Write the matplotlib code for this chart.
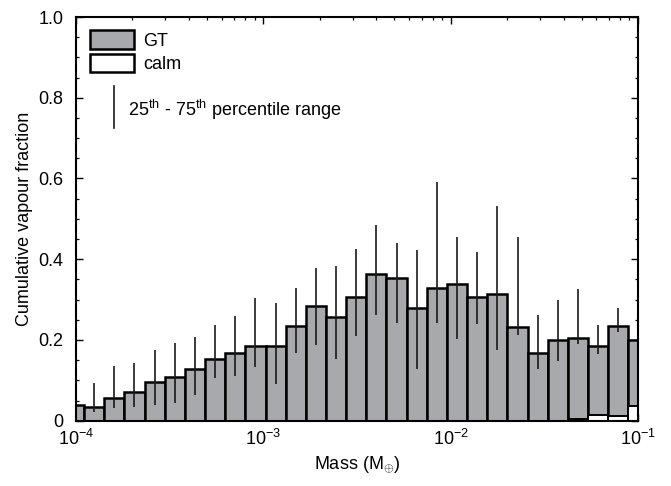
import matplotlib
matplotlib.use('Agg')
import matplotlib.pyplot as plt
from matplotlib.ticker import FuncFormatter, MultipleLocator, LogLocator
import numpy as np

plt.rcParams['font.family'] = ['Liberation Sans', 'DejaVu Sans']
plt.rcParams['mathtext.fontset'] = 'custom'
plt.rcParams['mathtext.rm'] = 'Liberation Sans'
plt.rcParams['mathtext.it'] = 'Liberation Sans:italic'
plt.rcParams['mathtext.bf'] = 'Liberation Sans:bold'
plt.rcParams['axes.unicode_minus'] = False

# log-spaced mass bins (first and last bins run past the axis limits)
edges = np.logspace(-4.0648, -0.9438, 30)

# GT cumulative vapour fraction per bin
gt = [0.038, 0.035, 0.056, 0.071, 0.097, 0.108, 0.127, 0.152, 0.169, 0.184,
      0.186, 0.235, 0.285, 0.258, 0.307, 0.363, 0.353, 0.279, 0.328, 0.338,
      0.307, 0.313, 0.231, 0.167, 0.199, 0.206, 0.186, 0.235, 0.200]
# 25th and 75th percentiles (nan: bin centre outside the axes)
p25 = [np.nan, 0.022, 0.031, 0.035, 0.039, 0.043, 0.064, 0.107, 0.111, 0.134,
       0.091, 0.169, 0.188, 0.152, 0.210, 0.262, 0.241, 0.128, 0.241, 0.202,
       0.239, 0.176, 0.213, 0.128, 0.147, 0.191, 0.165, 0.221, np.nan]
p75 = [np.nan, 0.094, 0.136, 0.142, 0.175, 0.192, 0.207, 0.238, 0.260, 0.304,
       0.291, 0.328, 0.379, 0.383, 0.425, 0.485, 0.440, 0.423, 0.591, 0.454,
       0.419, 0.532, 0.455, 0.261, 0.300, 0.327, 0.236, 0.279, np.nan]
# calm runs
calm = [0, 0, 0, 0, 0, 0, 0, 0, 0, 0,
        0, 0, 0, 0, 0, 0, 0, 0, 0, 0,
        0, 0, 0, 0, 0.0, 0.004, 0.013, 0.012, 0.037]

left = edges[:-1]
width = np.diff(edges)
centre = np.sqrt(edges[:-1] * edges[1:])

fig = plt.figure(figsize=(6.71, 4.86), dpi=100)
ax = fig.add_axes([0.1133, 0.1343, 0.8376, 0.8307])

ax.bar(left, gt, width=width, align='edge', color='#a7a9ac',
       edgecolor='black', linewidth=1.8, zorder=2)
ax.bar(left, calm, width=width, align='edge', color='white',
       edgecolor='black', linewidth=1.4, zorder=3)
ax.vlines(centre, p25, p75, color='#1a1a1a', linewidth=1.2, zorder=4)

ax.set_xscale('log')
ax.set_xlim(1e-4, 1e-1)
ax.set_ylim(0, 1.0)
ax.xaxis.set_major_locator(LogLocator(base=10, numticks=10))
ax.xaxis.set_minor_locator(LogLocator(base=10, subs=np.arange(2, 10), numticks=10))
ax.yaxis.set_major_locator(MultipleLocator(0.2))
ax.yaxis.set_minor_locator(MultipleLocator(0.05))
ax.yaxis.set_major_formatter(FuncFormatter(lambda v, p: '0' if abs(v) < 1e-9 else '%.1f' % v))

ax.tick_params(which='both', direction='in', top=True, right=True, labelsize=13)
ax.tick_params(which='major', length=5, width=1.0)
ax.tick_params(which='minor', length=2.5, width=0.9)
ax.tick_params(axis='y', which='major', pad=9)
ax.tick_params(axis='x', which='major', pad=6)
for s in ax.spines.values():
    s.set_linewidth(1.5)
    s.set_zorder(5)

ax.set_xlabel(r'Mass (M$_{\oplus}$)', fontsize=13, labelpad=4)
ax.set_ylabel('Cumulative vapour fraction', fontsize=13, labelpad=4)

# hand-made legend
tr = ax.transAxes
ax.add_patch(plt.Rectangle((0.025, 0.921), 0.078, 0.047, transform=tr,
                           facecolor='#a7a9ac', edgecolor='black', linewidth=1.8, zorder=6))
ax.add_patch(plt.Rectangle((0.025, 0.864), 0.078, 0.045, transform=tr,
                           facecolor='white', edgecolor='black', linewidth=1.8, zorder=6))
ax.text(0.119, 0.940, 'GT', transform=tr, fontsize=13, va='center', ha='left')
ax.text(0.119, 0.883, 'calm', transform=tr, fontsize=13, va='center', ha='left')
ax.plot([0.0676, 0.0676], [0.725, 0.829], transform=tr, color='#1a1a1a', linewidth=1.2)
ax.text(0.0925, 0.770, r'25$^{\rm th}$ - 75$^{\rm th}$ percentile range', transform=tr,
        fontsize=13, va='center', ha='left')

plt.savefig('out.png', dpi=100)
plt.close()
